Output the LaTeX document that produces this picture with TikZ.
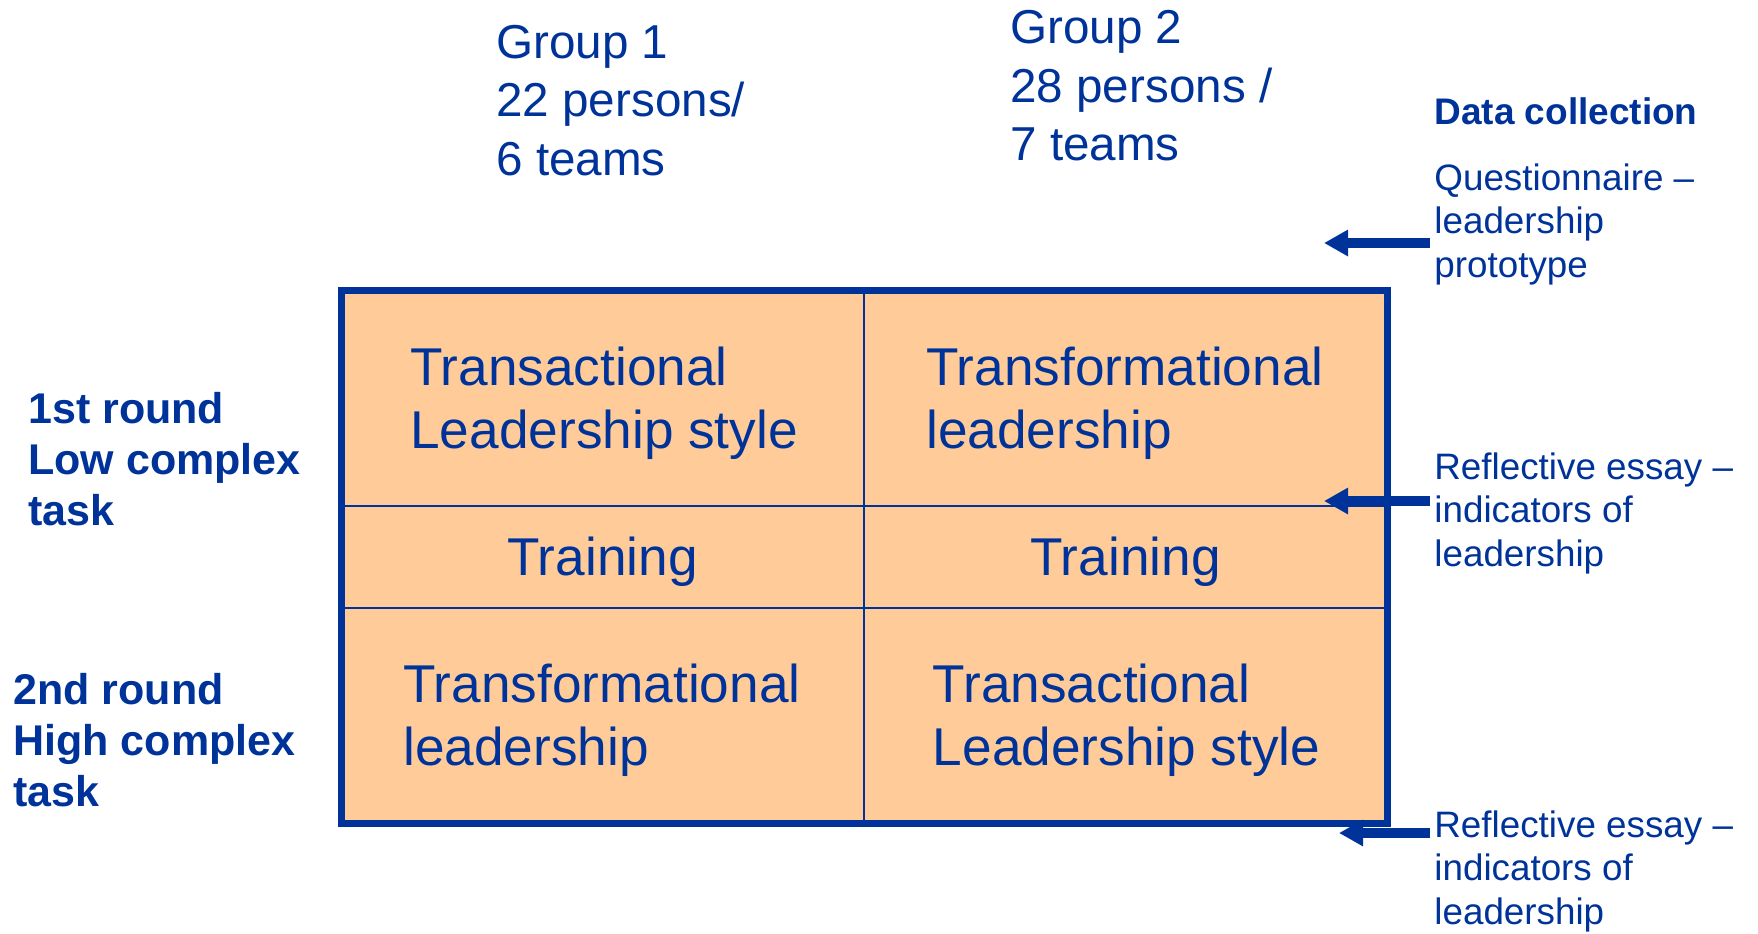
\documentclass[tikz,border=0pt]{standalone}
\usepackage{fontspec}
\setmainfont{Liberation Sans}
\usetikzlibrary{arrows.meta}
\definecolor{dblue}{HTML}{003399}
\definecolor{peach}{HTML}{FFCC99}
\tikzset{
  txt/.style={anchor=base west, inner sep=0pt, align=left, text=dblue},
  grouptxt/.style={txt, font=\fontsize{23.8}{29.25}\selectfont},
  celltxt/.style={txt, font=\fontsize{26.6}{31.5}\selectfont},
  roundtxt/.style={txt, font=\fontsize{21.5}{25.5}\selectfont\bfseries},
  headtxt/.style={txt, font=\fontsize{18.5}{22}\selectfont\bfseries},
  datatxt/.style={txt, font=\fontsize{18.4}{21.75}\selectfont},
  gridline/.style={draw=dblue, line width=1pt},
  datarrow/.style={draw=dblue, line width=5pt, line cap=butt, -{Triangle[length=12pt,width=12.5pt]}}
}
\begin{document}
\begin{tikzpicture}[x=0.5pt, y=-0.5pt]
\useasboundingbox (0,0) rectangle (1758,933);
% grid
\fill[peach] (341,290) rectangle (1387,823);
\coordinate (gtop) at (864,290);
\coordinate (gbot) at (864,823);
\coordinate (h1l) at (341,506);
\coordinate (h1r) at (1387,506);
\coordinate (h2l) at (341,608);
\coordinate (h2r) at (1387,608);
\draw[gridline] (gtop) -- (gbot);
\draw[gridline] (h1l) -- (h1r);
\draw[gridline] (h2l) -- (h2r);
\draw[draw=dblue, line width=3.5pt] (341,290) rectangle (1387,823);
% cell texts (anchored at baseline of last line)
\node[celltxt] (c11) at (410,448) {Transactional\\Leadership style};
\node[celltxt] (c12) at (926,448) {Transformational\\leadership};
\node[celltxt, anchor=base] (t1) at (602.5,575) {Training};
\node[celltxt, anchor=base] (t2) at (1125.5,575) {Training};
\node[celltxt] (c21) at (403,765) {Transformational\\leadership};
\node[celltxt] (c22) at (932.5,765) {Transactional\\Leadership style};
% groups
\node[grouptxt] (g1) at (496,175) {Group 1\\22 persons/\\6 teams};
\node[grouptxt] (g2) at (1010,160.5) {Group 2\\28 persons /\\7 teams};
% rounds
\node[roundtxt] (r1) at (28,525) {1st round\\Low complex\\task};
\node[roundtxt] (r2) at (13,806) {2nd round\\High complex\\task};
% data collection
\node[headtxt] (dc) at (1434,124) {Data collection};
\node[datatxt] (d1) at (1434,277) {Questionnaire --\\leadership\\prototype};
\node[datatxt] (d2) at (1434,566) {Reflective essay --\\indicators of\\leadership};
\node[datatxt] (d3) at (1434,924) {Reflective essay --\\indicators of\\leadership};
% arrows
\coordinate (a1s) at (1430,243);
\coordinate (a1e) at (1324,243);
\coordinate (a2s) at (1430,501);
\coordinate (a2e) at (1324,501);
\coordinate (a3s) at (1430,833);
\coordinate (a3e) at (1339,833);
\draw[datarrow] (a1s) -- (a1e);
\draw[datarrow] (a2s) -- (a2e);
\draw[datarrow] (a3s) -- (a3e);
\end{tikzpicture}
\end{document}
